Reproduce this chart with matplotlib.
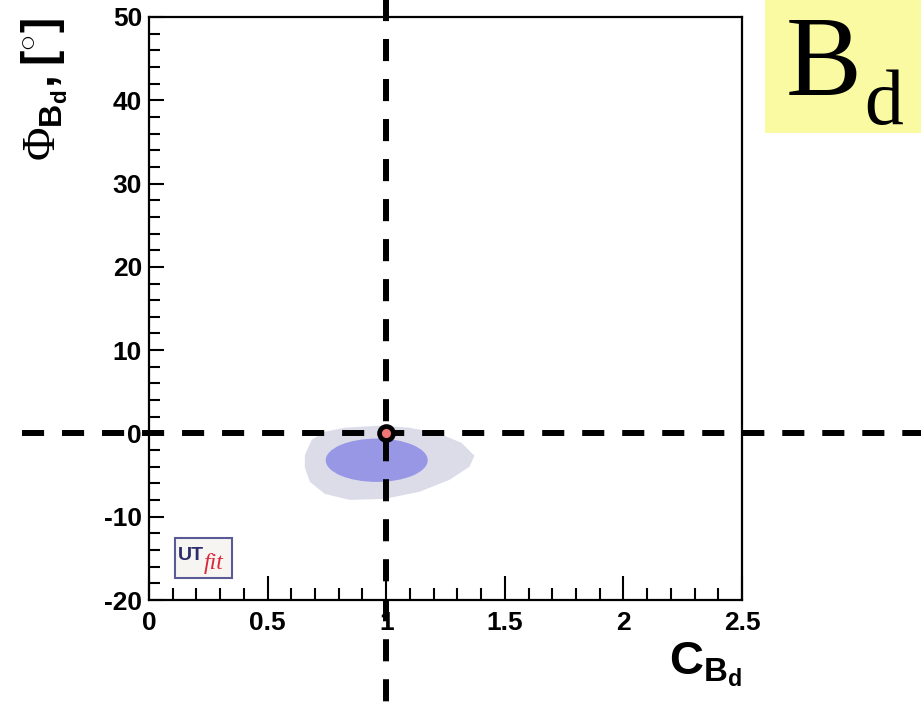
import numpy as np
import matplotlib.pyplot as plt
from matplotlib.patches import Polygon, Ellipse, Rectangle

plt.rcParams['mathtext.fontset'] = 'custom'
plt.rcParams['mathtext.rm'] = 'Liberation Serif'
plt.rcParams['mathtext.bf'] = 'Liberation Sans:bold'
plt.rcParams['mathtext.sf'] = 'Liberation Sans:bold'
plt.rcParams['axes.unicode_minus'] = False

# outer (95%) region boundary, C_Bd vs phi_Bd [deg]
outer_c = [0.657, 0.686, 0.741, 0.825, 0.972, 1.098, 1.225, 1.317, 1.372,
           1.351, 1.267, 1.141, 0.993, 0.846, 0.741, 0.678, 0.657]
outer_phi = [-2.6, -0.76, 0.2, 0.69, 0.93, 0.69, -0.04, -1.12, -2.68,
             -4.0, -5.57, -7.0, -7.86, -7.98, -7.26, -5.8, -4.1]

# inner (68%) region: centre and full widths
inner_center = (0.96, -3.22)
inner_width = 0.43
inner_height = 5.2

# Standard Model point
sm_c = [1.0]
sm_phi = [0.0]

xlim = (0, 2.5)
ylim = (-20, 50)

W, H = 921, 702
fig = plt.figure(figsize=(W / 100, H / 100), dpi=100)


def fx(px):
    return px / W


def fy(py):
    return 1 - py / H


ax = fig.add_axes([fx(149), fy(600), fx(742) - fx(149), fy(17) - fy(600)])
ax.set_xlim(*xlim)
ax.set_ylim(*ylim)

ax.add_patch(Polygon(np.column_stack([outer_c, outer_phi]), closed=True,
                     facecolor='#dcdce9', edgecolor='none', zorder=1))
ax.add_patch(Ellipse(inner_center, inner_width, inner_height,
                     facecolor='#9797e6', edgecolor='none', zorder=2))

# dashed SM lines, running past the frame
dash = dict(color='black', lw=4.3, dashes=(3.7, 3.0), clip_on=False, zorder=3)
ax.plot([-0.535, 3.3], [sm_phi[0], sm_phi[0]], **dash)
ax.plot([sm_c[0], sm_c[0]], [53, -33], **dash)

ax.plot(sm_c, sm_phi, 'o', ms=10, mfc='#f07676', mec='black', mew=3.4,
        clip_on=False, zorder=5)

ax.set_xticks(np.arange(0, 2.51, 0.5))
ax.set_xticks(np.arange(0, 2.51, 0.1), minor=True)
ax.set_yticks(np.arange(-20, 51, 10))
ax.set_yticks(np.arange(-20, 51, 2), minor=True)
ax.set_xticklabels(['0', '0.5', '1', '1.5', '2', '2.5'])

for s in ax.spines.values():
    s.set_linewidth(1.6)
ax.tick_params(which='both', direction='in', width=1.5, top=False, right=False)
ax.tick_params(axis='x', which='major', length=17, pad=8)
ax.tick_params(axis='x', which='minor', length=9)
ax.tick_params(axis='y', which='major', length=11, pad=5)
ax.tick_params(axis='y', which='minor', length=8)
for lab in ax.get_xticklabels() + ax.get_yticklabels():
    lab.set_fontfamily('Liberation Sans')
    lab.set_fontweight('bold')
    lab.set_fontsize(19)

# axis titles
fig.text(fx(45), fy(18), r'$\mathrm{\Phi}_{\mathbf{B}_{\mathbf{d}}}\mathbf{,[^{\circ}]}$',
         rotation=90, ha='center', va='top', fontsize=33)
fig.text(fx(742), fy(640), r'$\mathbf{C}_{\mathbf{B}_{\mathbf{d}}}$',
         ha='right', va='top', fontsize=34)

# B_d label box
fig.patches.append(Rectangle((fx(765), fy(133)), 1 - fx(765), fy(0) - fy(133),
                             transform=fig.transFigure, facecolor='#fafaa2',
                             edgecolor='none', zorder=0))
fig.text(fx(786), fy(95), 'B', family='Liberation Serif', fontsize=82,
         ha='left', va='baseline')
fig.text(fx(864), fy(124), 'd', family='Liberation Serif', fontsize=56,
         ha='left', va='baseline')

# UTfit logo
fig.patches.append(Rectangle((fx(175), fy(578)), fx(232) - fx(175), fy(538) - fy(578),
                             transform=fig.transFigure, facecolor='#f7f5f2',
                             edgecolor='#5a5a96', lw=1.5, zorder=4))
fig.text(fx(178), fy(560), 'UT', family='Liberation Sans', fontweight='bold',
         fontsize=14, color='#2c2c6e', ha='left', va='baseline', zorder=5)
fig.text(fx(204), fy(569), 'fit', family='Liberation Serif', style='italic',
         fontsize=17, color='#d8283a', ha='left', va='baseline', zorder=5)

fig.savefig('out.png', dpi=100)
